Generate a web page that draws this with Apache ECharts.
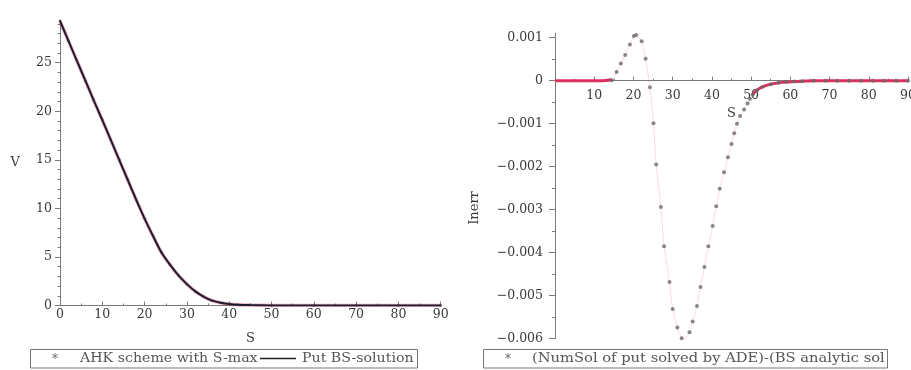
<!DOCTYPE html>
<html><head><meta charset="utf-8">
<script src="https://cdn.jsdelivr.net/npm/echarts@6/dist/echarts.min.js"></script>
<style>html,body{margin:0;padding:0;background:#fff}#c{width:911px;height:370px}</style>
</head><body><div id="c"></div>
<script>
// ---------- Left panel: put value V(S) ----------
const putS = [0,2,4,6,8,10,12,14,16,18,20,22,24,26,28,30,32,34,36,38,40,42,45,50,60,70,80,90];
const putV = [29.3,27.25,25.2,23.15,21.1,19.1,17.05,15.0,12.95,10.9,8.95,7.15,5.45,4.2,3.1,2.2,1.45,0.9,0.5,0.28,0.15,0.08,0.04,0.01,0,0,0,0];
const leftXTicks = [0,10,20,30,40,50,60,70,80,90];
const leftYTicks = [0,5,10,15,20,25];

// ---------- Right panel: error ----------
const errS = [14.5,15.7,16.8,17.9,19.1,20.1,20.7,22.1,23.1,24.2,25.1,25.8,27.0,27.8,29.2,30.0,31.2,32.3,32.9,34.3,35.1,36.2,37.1,38.1,39.1,40.2,41.1,42.0,43.1,44.1,45.0,45.7,46.4,47.2,48.2,49.1,49.7,50.4,51.5,53,55,57,59,61,63,66,69,72,75,78,81,84,87,90];
const errV = [0.00001,0.0002,0.0004,0.0006,0.00084,0.00104,0.00106,0.00092,0.00051,-0.00015,-0.00099,-0.00195,-0.00294,-0.00385,-0.00468,-0.00531,-0.00574,-0.00599,-0.00602,-0.00585,-0.0056,-0.00524,-0.0048,-0.00433,-0.00385,-0.00338,-0.00292,-0.00251,-0.00213,-0.00178,-0.00147,-0.00122,-0.001,-0.00082,-0.00067,-0.00053,-0.00042,-0.00032,-0.00022,-0.00014,-0.00008,-0.00005,-0.00003,-0.00002,-0.00001,0,0,0,0,0,0,0,0,0];
const bsS = [0,4,8,12,14.5,null,50.4,51.5,53,55,57,59,61,63,66,70,75,80,85,90];
const bsV = [0,0,0,0,0.00002,null,-0.00032,-0.00022,-0.00014,-0.00008,-0.00005,-0.00003,-0.00002,-0.00001,0,0,0,0,0,0];
const rightXTicks = [10,20,30,40,50,60,70,80,90];
const rightYTicks = [-0.006,-0.005,-0.004,-0.003,-0.002,-0.001,0,0.001];
const rightYLabels = ['\u22120.006','\u22120.005','\u22120.004','\u22120.003','\u22120.002','\u22120.001','0','0.001'];

const FONT = 'DejaVu Serif';
const TXT = '#3a3a3a';
const AX = '#7a7a7a';

// right grid geometry (layout only)
const RG_TOP = 33.4, RG_H = 305.3, RY_MIN = -0.006, RY_MAX = 0.0011;
const zeroShift = RG_H * (0 - RY_MIN) / (RY_MAX - RY_MIN); // distance from grid bottom up to y=0

const chart = echarts.init(document.getElementById('c'));
const pair = (xs, ys) => xs.map((x, i) => (x === null ? null : [x, ys[i]]));

chart.setOption({
  animation: false,
  backgroundColor: '#fff',
  grid: [
    {left: 60, top: 20, width: 380.7, height: 285.5, outerBoundsMode: 'none'},
    {left: 555, top: RG_TOP, right: 3, height: RG_H, outerBoundsMode: 'none'}
  ],
  xAxis: [
    {gridIndex: 0, type: 'value', min: 0, max: 90, interval: 10,
     name: 'S', nameLocation: 'middle', nameGap: 27,
     nameTextStyle: {fontFamily: FONT, fontSize: 13, color: TXT},
     axisLine: {onZero: false, lineStyle: {color: AX}},
     axisTick: {inside: true, length: 4, lineStyle: {color: AX}},
     minorTick: {show: true, splitNumber: 2, length: 2, lineStyle: {color: AX}},
     axisLabel: {fontFamily: FONT, fontSize: 12.5, color: TXT, margin: 3, customValues: leftXTicks},
     splitLine: {show: false}},
    {gridIndex: 1, type: 'value', min: 0, max: 90, interval: 10,
     position: 'bottom', offset: -zeroShift,
     name: 'S', nameLocation: 'middle', nameGap: 26,
     nameTextStyle: {fontFamily: FONT, fontSize: 13, color: TXT},
     axisLine: {onZero: false, lineStyle: {color: AX}},
     axisTick: {inside: true, length: 4, lineStyle: {color: AX}, customValues: rightXTicks},
     minorTick: {show: true, splitNumber: 2, length: 2, lineStyle: {color: AX}},
     axisLabel: {fontFamily: FONT, fontSize: 12.5, color: TXT, margin: 9, customValues: rightXTicks},
     splitLine: {show: false}}
  ],
  yAxis: [
    {gridIndex: 0, type: 'value', min: 0, max: 29.4, interval: 5,
     name: 'V', nameLocation: 'middle', nameRotate: 0, nameGap: 40,
     nameTextStyle: {fontFamily: FONT, fontSize: 13, color: TXT},
     axisLine: {onZero: false, lineStyle: {color: AX}},
     axisTick: {length: 5, lineStyle: {color: AX}, customValues: leftYTicks},
     minorTick: {show: true, splitNumber: 5, length: 2.5, lineStyle: {color: AX}},
     axisLabel: {fontFamily: FONT, fontSize: 12.5, color: TXT, margin: 8, customValues: leftYTicks},
     splitLine: {show: false}},
    {gridIndex: 1, type: 'value', min: RY_MIN, max: RY_MAX, interval: 0.001,
     axisLine: {onZero: false, lineStyle: {color: AX}},
     axisTick: {length: 6, lineStyle: {color: AX}, customValues: rightYTicks},
     minorTick: {show: true, splitNumber: 2, length: 3, lineStyle: {color: AX}},
     axisLabel: {fontFamily: FONT, fontSize: 12.5, color: TXT, margin: 12, customValues: rightYTicks,
       formatter: v => { const i = rightYTicks.findIndex(t => Math.abs(t - v) < 1e-9); return i >= 0 ? rightYLabels[i] : ''; }},
     splitLine: {show: false}}
  ],
  series: [
    {name: 'Put BS-solution (red)', type: 'line', xAxisIndex: 0, yAxisIndex: 0, data: pair(putS, putV),
     smooth: 0.3, showSymbol: false, silent: true, z: 2,
     lineStyle: {color: 'rgba(222,70,105,0.45)', width: 3.5}},
    {name: 'Put BS-solution', type: 'line', xAxisIndex: 0, yAxisIndex: 0, data: pair(putS, putV),
     smooth: 0.3, showSymbol: false, z: 3,
     lineStyle: {color: '#1b1d2e', width: 2}},
    {name: 'AHK scheme with S-max', type: 'scatter', xAxisIndex: 0, yAxisIndex: 0, data: pair(putS, putV),
     symbol: 'circle', symbolSize: 2.5, itemStyle: {color: '#2a2a3a'}, z: 4},
    {name: 'BS analytic sol', type: 'line', xAxisIndex: 1, yAxisIndex: 1, data: pair(bsS, bsV),
     smooth: 0.3, connectNulls: false, showSymbol: false, z: 3,
     lineStyle: {color: '#db2f5e', width: 3}},
    {name: 'faint', type: 'line', xAxisIndex: 1, yAxisIndex: 1, data: pair(errS, errV),
     smooth: 0.2, showSymbol: false, silent: true, z: 2,
     lineStyle: {color: 'rgba(230,90,130,0.22)', width: 1}},
    {name: 'NumSol - BS', type: 'scatter', xAxisIndex: 1, yAxisIndex: 1, data: pair(errS, errV),
     symbol: 'circle', symbolSize: 4, itemStyle: {color: '#6a6a6a'}, z: 4}
  ],
  graphic: [
    {type: 'text', x: 475, y: 208, rotation: Math.PI / 2,
     style: {text: 'Inerr', fontFamily: FONT, fontSize: 13, fill: TXT, textAlign: 'center', textVerticalAlign: 'middle'}},
    {type: 'rect', shape: {x: 30.5, y: 349.5, width: 387, height: 18.5}, style: {fill: 'none', stroke: '#777', lineWidth: 1}},
    {type: 'text', x: 55, y: 360, style: {text: '*', fontFamily: FONT, fontSize: 12, fill: '#666', textAlign: 'center', textVerticalAlign: 'middle'}},
    {type: 'text', x: 80, y: 359, scaleX: 1.09, style: {text: 'AHK scheme with S-max', fontFamily: FONT, fontSize: 13, fill: '#555', textAlign: 'left', textVerticalAlign: 'middle'}},
    {type: 'line', shape: {x1: 260, y1: 358.5, x2: 296, y2: 358.5}, style: {stroke: '#222', lineWidth: 1.5}},
    {type: 'text', x: 302, y: 359, scaleX: 1.09, style: {text: 'Put BS-solution', fontFamily: FONT, fontSize: 13, fill: '#555', textAlign: 'left', textVerticalAlign: 'middle'}},
    {type: 'rect', shape: {x: 483.5, y: 349.5, width: 404, height: 18.5}, style: {fill: 'none', stroke: '#777', lineWidth: 1}},
    {type: 'text', x: 508, y: 360, style: {text: '*', fontFamily: FONT, fontSize: 12, fill: '#666', textAlign: 'center', textVerticalAlign: 'middle'}},
    {type: 'text', x: 532, y: 359, scaleX: 1.13, style: {text: '(NumSol of put solved by ADE)-(BS analytic sol', fontFamily: FONT, fontSize: 13, fill: '#555', textAlign: 'left', textVerticalAlign: 'middle'}}
  ]
});
</script></body></html>
